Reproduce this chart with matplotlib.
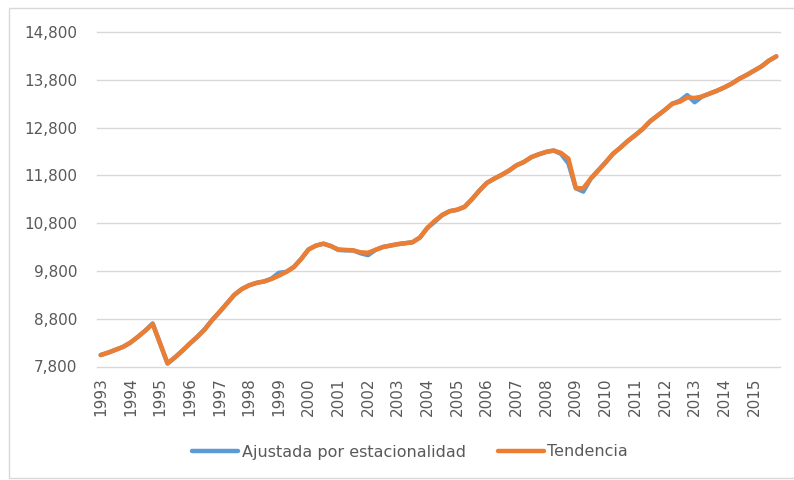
import matplotlib.pyplot as plt
from matplotlib.ticker import FuncFormatter
from matplotlib.patches import Rectangle

# quarterly series, 1993 Q1 .. 2015 Q4
years = [str(y) for y in range(1993, 2016)]

tendencia = [
    8040, 8090, 8150, 8210, 8300, 8420, 8550, 8690,      # 1993-1994
    8280, 7870, 7990, 8130, 8280, 8420, 8570, 8770,      # 1995-1996
    8940, 9120, 9300, 9420, 9500, 9550, 9580, 9630,      # 1997-1998
    9700, 9780, 9880, 10050, 10250, 10330, 10370, 10320,  # 1999-2000
    10250, 10240, 10230, 10190, 10180, 10240, 10300, 10330,  # 2001-2002
    10360, 10380, 10400, 10500, 10700, 10850, 10970, 11050,  # 2003-2004
    11080, 11140, 11300, 11480, 11640, 11730, 11810, 11900,  # 2005-2006
    12010, 12080, 12180, 12240, 12290, 12320, 12270, 12150,  # 2007-2008
    11530, 11530, 11730, 11900, 12070, 12250, 12380, 12520,  # 2009-2010
    12640, 12770, 12930, 13050, 13170, 13300, 13340, 13430,  # 2011-2012
    13420, 13450, 13510, 13570, 13640, 13720, 13820, 13900,  # 2013-2014
    13990, 14080, 14200, 14290,                              # 2015
]

ajustada = [
    8040, 8090, 8150, 8210, 8300, 8420, 8550, 8700,
    8280, 7860, 7990, 8130, 8280, 8420, 8580, 8770,
    8940, 9120, 9300, 9420, 9500, 9550, 9580, 9640,
    9760, 9780, 9880, 10050, 10250, 10330, 10370, 10320,
    10240, 10230, 10230, 10170, 10130, 10240, 10300, 10330,
    10360, 10380, 10400, 10500, 10700, 10830, 10970, 11050,
    11080, 11140, 11300, 11480, 11640, 11730, 11810, 11900,
    12010, 12080, 12180, 12240, 12290, 12320, 12250, 12050,
    11530, 11460, 11730, 11900, 12070, 12250, 12380, 12520,
    12640, 12770, 12930, 13050, 13170, 13300, 13360, 13480,
    13330, 13450, 13510, 13570, 13640, 13720, 13820, 13900,
    13990, 14080, 14200, 14290,
]

blue = '#5B9BD5'
orange = '#ED7D31'
grey = '#595959'

fig = plt.figure(figsize=(7.94, 4.80), dpi=100, facecolor='white')
fig.patches.append(Rectangle((9 / 794, 2 / 480), 1.0, 470 / 480, transform=fig.transFigure,
                             fill=False, edgecolor='#D9D9D9', linewidth=1))

ax = fig.add_axes([97 / 794, 1 - 366.5 / 480, (780 - 97) / 794, (366.5 - 32) / 480])

x = list(range(len(tendencia)))
ax.plot(x, ajustada, color=blue, linewidth=3.2, solid_capstyle='round', solid_joinstyle='round',
        label='Ajustada por estacionalidad', zorder=3)
ax.plot(x, tendencia, color=orange, linewidth=3.2, solid_capstyle='round', solid_joinstyle='round',
        label='Tendencia', zorder=4)

ax.set_xlim(-0.5, len(tendencia) - 0.5)
ax.set_ylim(7800, 14800)
ax.set_yticks(range(7800, 14801, 1000))
ax.yaxis.set_major_formatter(FuncFormatter(lambda v, p: f'{int(v):,}'))
ax.set_xticks(range(0, len(tendencia), 4))
ax.set_xticklabels(years, rotation=90)

ax.grid(axis='y', color='#D9D9D9', linewidth=1)
for gl in ax.get_ygridlines():
    gl.set_clip_on(False)
ax.set_axisbelow(True)
for s in ax.spines.values():
    s.set_visible(False)
ax.tick_params(axis='both', length=0, labelsize=11, labelcolor=grey)
ax.tick_params(axis='y', pad=14)
ax.tick_params(axis='x', pad=8)

fig.legend(loc='center', bbox_to_anchor=(410 / 794, 1 - 452 / 480), ncol=2, frameon=False,
           fontsize=11.5, labelcolor=grey, handlelength=2.9, handletextpad=0.2, columnspacing=2.0)

fig.savefig('out.png', dpi=100, facecolor='white')
